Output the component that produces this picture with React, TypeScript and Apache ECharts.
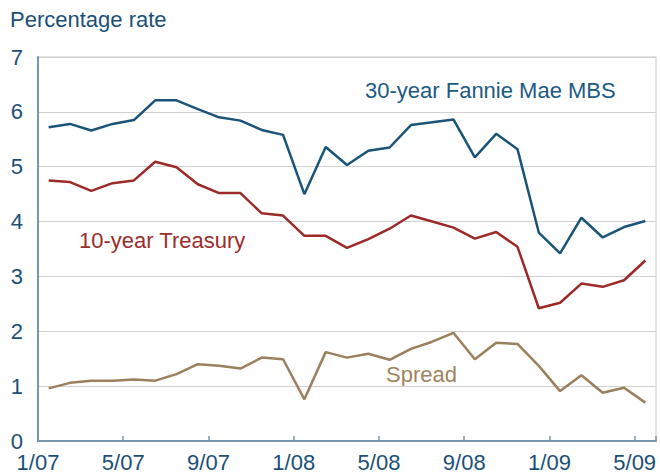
import React, { useEffect, useRef } from "react";
import * as echarts from "echarts";

const months = [
  "1/07", "2/07", "3/07", "4/07", "5/07", "6/07", "7/07", "8/07", "9/07", "10/07", "11/07", "12/07",
  "1/08", "2/08", "3/08", "4/08", "5/08", "6/08", "7/08", "8/08", "9/08", "10/08", "11/08", "12/08",
  "1/09", "2/09", "3/09", "4/09", "5/09",
];
const tickLabels = ["1/07", "5/07", "9/07", "1/08", "5/08", "9/08", "1/09", "5/09"];
const mbs = [
  5.72, 5.78, 5.66, 5.78, 5.85, 6.21, 6.21, 6.05, 5.9, 5.84, 5.67, 5.58,
  4.5, 5.36, 5.03, 5.29, 5.35, 5.76, 5.81, 5.86, 5.17, 5.6, 5.32, 3.8,
  3.42, 4.07, 3.71, 3.9, 4.01,
];
const treasury = [
  4.75, 4.72, 4.56, 4.7, 4.75, 5.09, 4.99, 4.68, 4.52, 4.52, 4.15, 4.11,
  3.74, 3.74, 3.52, 3.68, 3.87, 4.11, 4.0, 3.89, 3.69, 3.81, 3.54, 2.42,
  2.52, 2.87, 2.81, 2.93, 3.29,
];
const spread = [
  0.96, 1.06, 1.1, 1.1, 1.12, 1.1, 1.22, 1.4, 1.37, 1.32, 1.52, 1.49,
  0.76, 1.62, 1.52, 1.59, 1.48, 1.68, 1.81, 1.97, 1.49, 1.79, 1.77, 1.37,
  0.91, 1.2, 0.88, 0.97, 0.7,
];

const FONT = "'Liberation Sans', Arial, sans-serif";
const AXIS_TEXT = "#1b4f78";

function toPoints(vals: number[]) {
  // each monthly value sits at the middle of its month
  return vals.map((v, i) => [i + 0.5, v]);
}

export default function App() {
  const ref = useRef<HTMLDivElement>(null);
  useEffect(() => {
    if (!ref.current) return;
    const chart = echarts.init(ref.current, null, { renderer: "svg" });
    const line = (name: string, data: number[], color: string) => ({
      name,
      type: "line",
      data: toPoints(data),
      showSymbol: false,
      symbol: "none",
      lineStyle: { color, width: 2.5 },
      z: 5,
    });
    chart.setOption({
      animation: false,
      backgroundColor: "#ffffff",
      grid: {
        left: 38,
        top: 57,
        width: 618,
        height: 384,
        show: true,
        borderColor: "#c8c8c8",
        borderWidth: 1,
      },
      xAxis: {
        type: "value",
        min: 0,
        max: months.length,
        interval: 4,
        axisLine: { show: true, lineStyle: { color: "#7896ab", width: 2 } },
        axisTick: { show: true, inside: true, length: 5, lineStyle: { color: "#7896ab", width: 1.5 } },
        splitLine: { show: false },
        axisLabel: {
          color: AXIS_TEXT,
          fontSize: 22,
          fontFamily: FONT,
          margin: 10,
          showMaxLabel: true,
          formatter: (v: number) => (v % 4 === 0 ? tickLabels[v / 4] ?? "" : ""),
        },
      },
      yAxis: {
        type: "value",
        min: 0,
        max: 7,
        interval: 1,
        axisLine: { show: true, lineStyle: { color: "#7896ab", width: 2 } },
        axisTick: { show: false },
        splitLine: { show: true, lineStyle: { color: "#d0d0d0", width: 1 } },
        axisLabel: { color: AXIS_TEXT, fontSize: 22, fontFamily: FONT, margin: 15 },
      },
      graphic: [
        {
          type: "text",
          left: 10,
          top: 8,
          style: { text: "Percentage rate", fill: AXIS_TEXT, font: `22px ${FONT}` },
        },
        {
          type: "text",
          left: 365,
          top: 79,
          style: { text: "30-year Fannie Mae MBS", fill: "#1b5a82", font: `22px ${FONT}` },
        },
        {
          type: "text",
          left: 79,
          top: 229,
          style: { text: "10-year Treasury", fill: "#9b2d2b", font: `22px ${FONT}` },
        },
        {
          type: "text",
          left: 386,
          top: 363,
          style: { text: "Spread", fill: "#a0835f", font: `22px ${FONT}` },
        },
      ],
      series: [
        line("30-year Fannie Mae MBS", mbs, "#1b5479"),
        line("10-year Treasury", treasury, "#9b2a28"),
        line("Spread", spread, "#9c7f5d"),
      ],
    });
    return () => chart.dispose();
  }, []);
  return (
    <div
      ref={ref}
      style={{ position: "fixed", left: 0, top: 0, width: 660, height: 476 }}
    />
  );
}
